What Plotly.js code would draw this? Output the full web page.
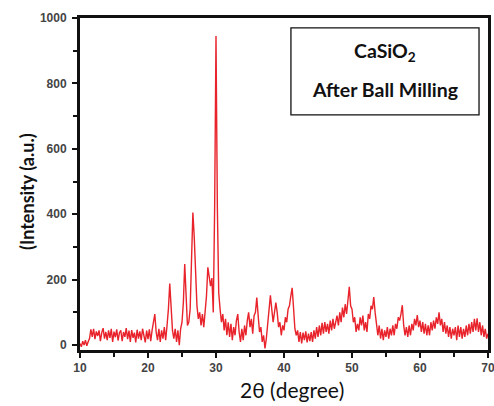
<!DOCTYPE html>
<html>
<head>
<meta charset="utf-8">
<script src="https://cdn.plot.ly/plotly-3.0.1.min.js"></script>
<style>html,body{margin:0;padding:0;background:#fff;}#chart{width:494px;height:406px;}</style>
</head>
<body>
<div id="chart"></div>
<script>
// 2θ grid: start 10°, step 0.2° (x0/dx), intensities
const twoThetaStart = 10;
const twoThetaStep = 0.2;
const intensity = [
  5,-5,12,0,15,-2,10,20,48,25,
  50,18,42,28,45,12,38,52,20,40,
  15,45,22,50,10,41,24,48,14,38,
  45,12,40,25,52,18,44,10,46,22,
  38,8,47,20,42,15,50,25,8,44,
  18,48,12,45,70,95,40,15,50,10,
  45,20,55,15,60,110,188,120,45,20,
  50,10,45,0,50,70,130,248,150,60,
  70,110,260,405,330,190,120,80,100,60,
  95,55,100,150,238,215,180,205,100,420,
  945,420,160,110,70,95,45,80,30,70,
  25,65,15,55,30,75,95,40,10,50,
  15,60,30,75,100,55,80,35,90,100,
  145,90,40,55,10,30,-10,20,70,110,
  152,110,70,100,130,100,55,70,30,60,
  45,85,70,110,120,150,175,115,50,30,
  45,10,40,5,38,15,42,8,35,12,
  40,10,45,20,55,25,60,30,68,35,
  70,40,65,35,75,45,80,50,72,90,
  60,100,70,115,85,125,95,140,178,120,
  110,70,85,40,65,45,85,60,90,45,
  70,40,95,80,120,110,147,100,60,30,
  60,20,50,15,45,25,55,20,50,30,
  60,30,65,50,85,75,95,122,60,30,
  55,25,60,30,65,45,80,60,92,55,
  75,40,70,35,65,30,60,30,70,45,
  75,50,85,65,100,60,80,40,70,35,
  60,25,55,20,50,30,55,15,60,25,
  55,20,50,25,60,30,65,35,70,40,
  80,45,82,40,70,30,60,25,50,20,
  35
];
const xTickVals = [10,20,30,40,50,60,70];
const yTickVals = [0,200,400,600,800,1000];
const labelLine1 = 'CaSiO<sub>2</sub>';
const labelLine2 = 'After Ball Milling';
const xTitle = '2θ (degree)';
const yTitle = '(Intensity (a.u.)';

const tickFont = {family: 'Liberation Sans, Arial, sans-serif', size: 12, color: '#444', weight: 'bold'};
const boxFont = {family: 'Lato, Open Sans, sans-serif', size: 19.5, color: '#111', weight: 'bold'};

const trace = {
  type: 'scatter', mode: 'lines',
  y: intensity, x0: twoThetaStart, dx: twoThetaStep,
  line: {color: '#e8232b', width: 1.4},
  hoverinfo: 'skip'
};

const layout = {
  width: 494, height: 406,
  margin: {l: 80, r: 6, t: 18, b: 56, pad: 0},
  paper_bgcolor: '#fff', plot_bgcolor: '#fff',
  showlegend: false,
  xaxis: {
    range: [10, 70], tickvals: xTickVals, ticktext: xTickVals.map(String),
    showgrid: false, zeroline: false,
    showline: true, linecolor: '#111', linewidth: 3, mirror: true,
    ticks: 'outside', ticklen: 5, tickwidth: 2, tickcolor: '#111',
    minor: {dtick: 5, tick0: 5, ticks: 'outside', ticklen: 4, tickwidth: 2, tickcolor: '#111', showgrid: false},
    tickfont: tickFont, ticklabeloverflow: 'allow'
  },
  yaxis: {
    range: [-15, 1000], tickvals: yTickVals, ticktext: yTickVals.map(String),
    showgrid: false, zeroline: false,
    showline: true, linecolor: '#111', linewidth: 3, mirror: true,
    ticks: 'outside', ticklen: 5, tickwidth: 2, tickcolor: '#111',
    minor: {dtick: 100, tick0: 100, ticks: 'outside', ticklen: 4, tickwidth: 2, tickcolor: '#111', showgrid: false},
    tickfont: tickFont, ticklabelstandoff: 3, ticklabeloverflow: 'allow'
  },
  shapes: [{
    type: 'rect', xref: 'paper', yref: 'paper',
    x0: 0.517, x1: 0.978, y0: 0.708, y1: 0.970,
    line: {color: '#111', width: 1.3}, fillcolor: 'rgba(0,0,0,0)'
  }],
  annotations: [
    {xref: 'paper', yref: 'paper', x: 0.748, y: 0.898, xanchor: 'center', yanchor: 'middle',
     text: labelLine1, showarrow: false, font: boxFont},
    {xref: 'paper', yref: 'paper', x: 0.748, y: 0.785, xanchor: 'center', yanchor: 'middle',
     text: labelLine2, showarrow: false, font: boxFont},
    {xref: 'paper', yref: 'paper', x: 0.52, y: -0.12, xanchor: 'center', yanchor: 'middle',
     text: xTitle, showarrow: false,
     font: {family: 'Lato, Open Sans, sans-serif', size: 21, color: '#111'}},
    {xref: 'paper', yref: 'paper', x: -0.13, y: 0.479, xanchor: 'center', yanchor: 'middle',
     textangle: -90, text: yTitle, showarrow: false,
     font: {family: 'Lato, Open Sans, sans-serif', size: 18, color: '#111', weight: 'bold'}}
  ]
};

Plotly.newPlot('chart', [trace], layout, {displayModeBar: false, staticPlot: true});
</script>
</body>
</html>
